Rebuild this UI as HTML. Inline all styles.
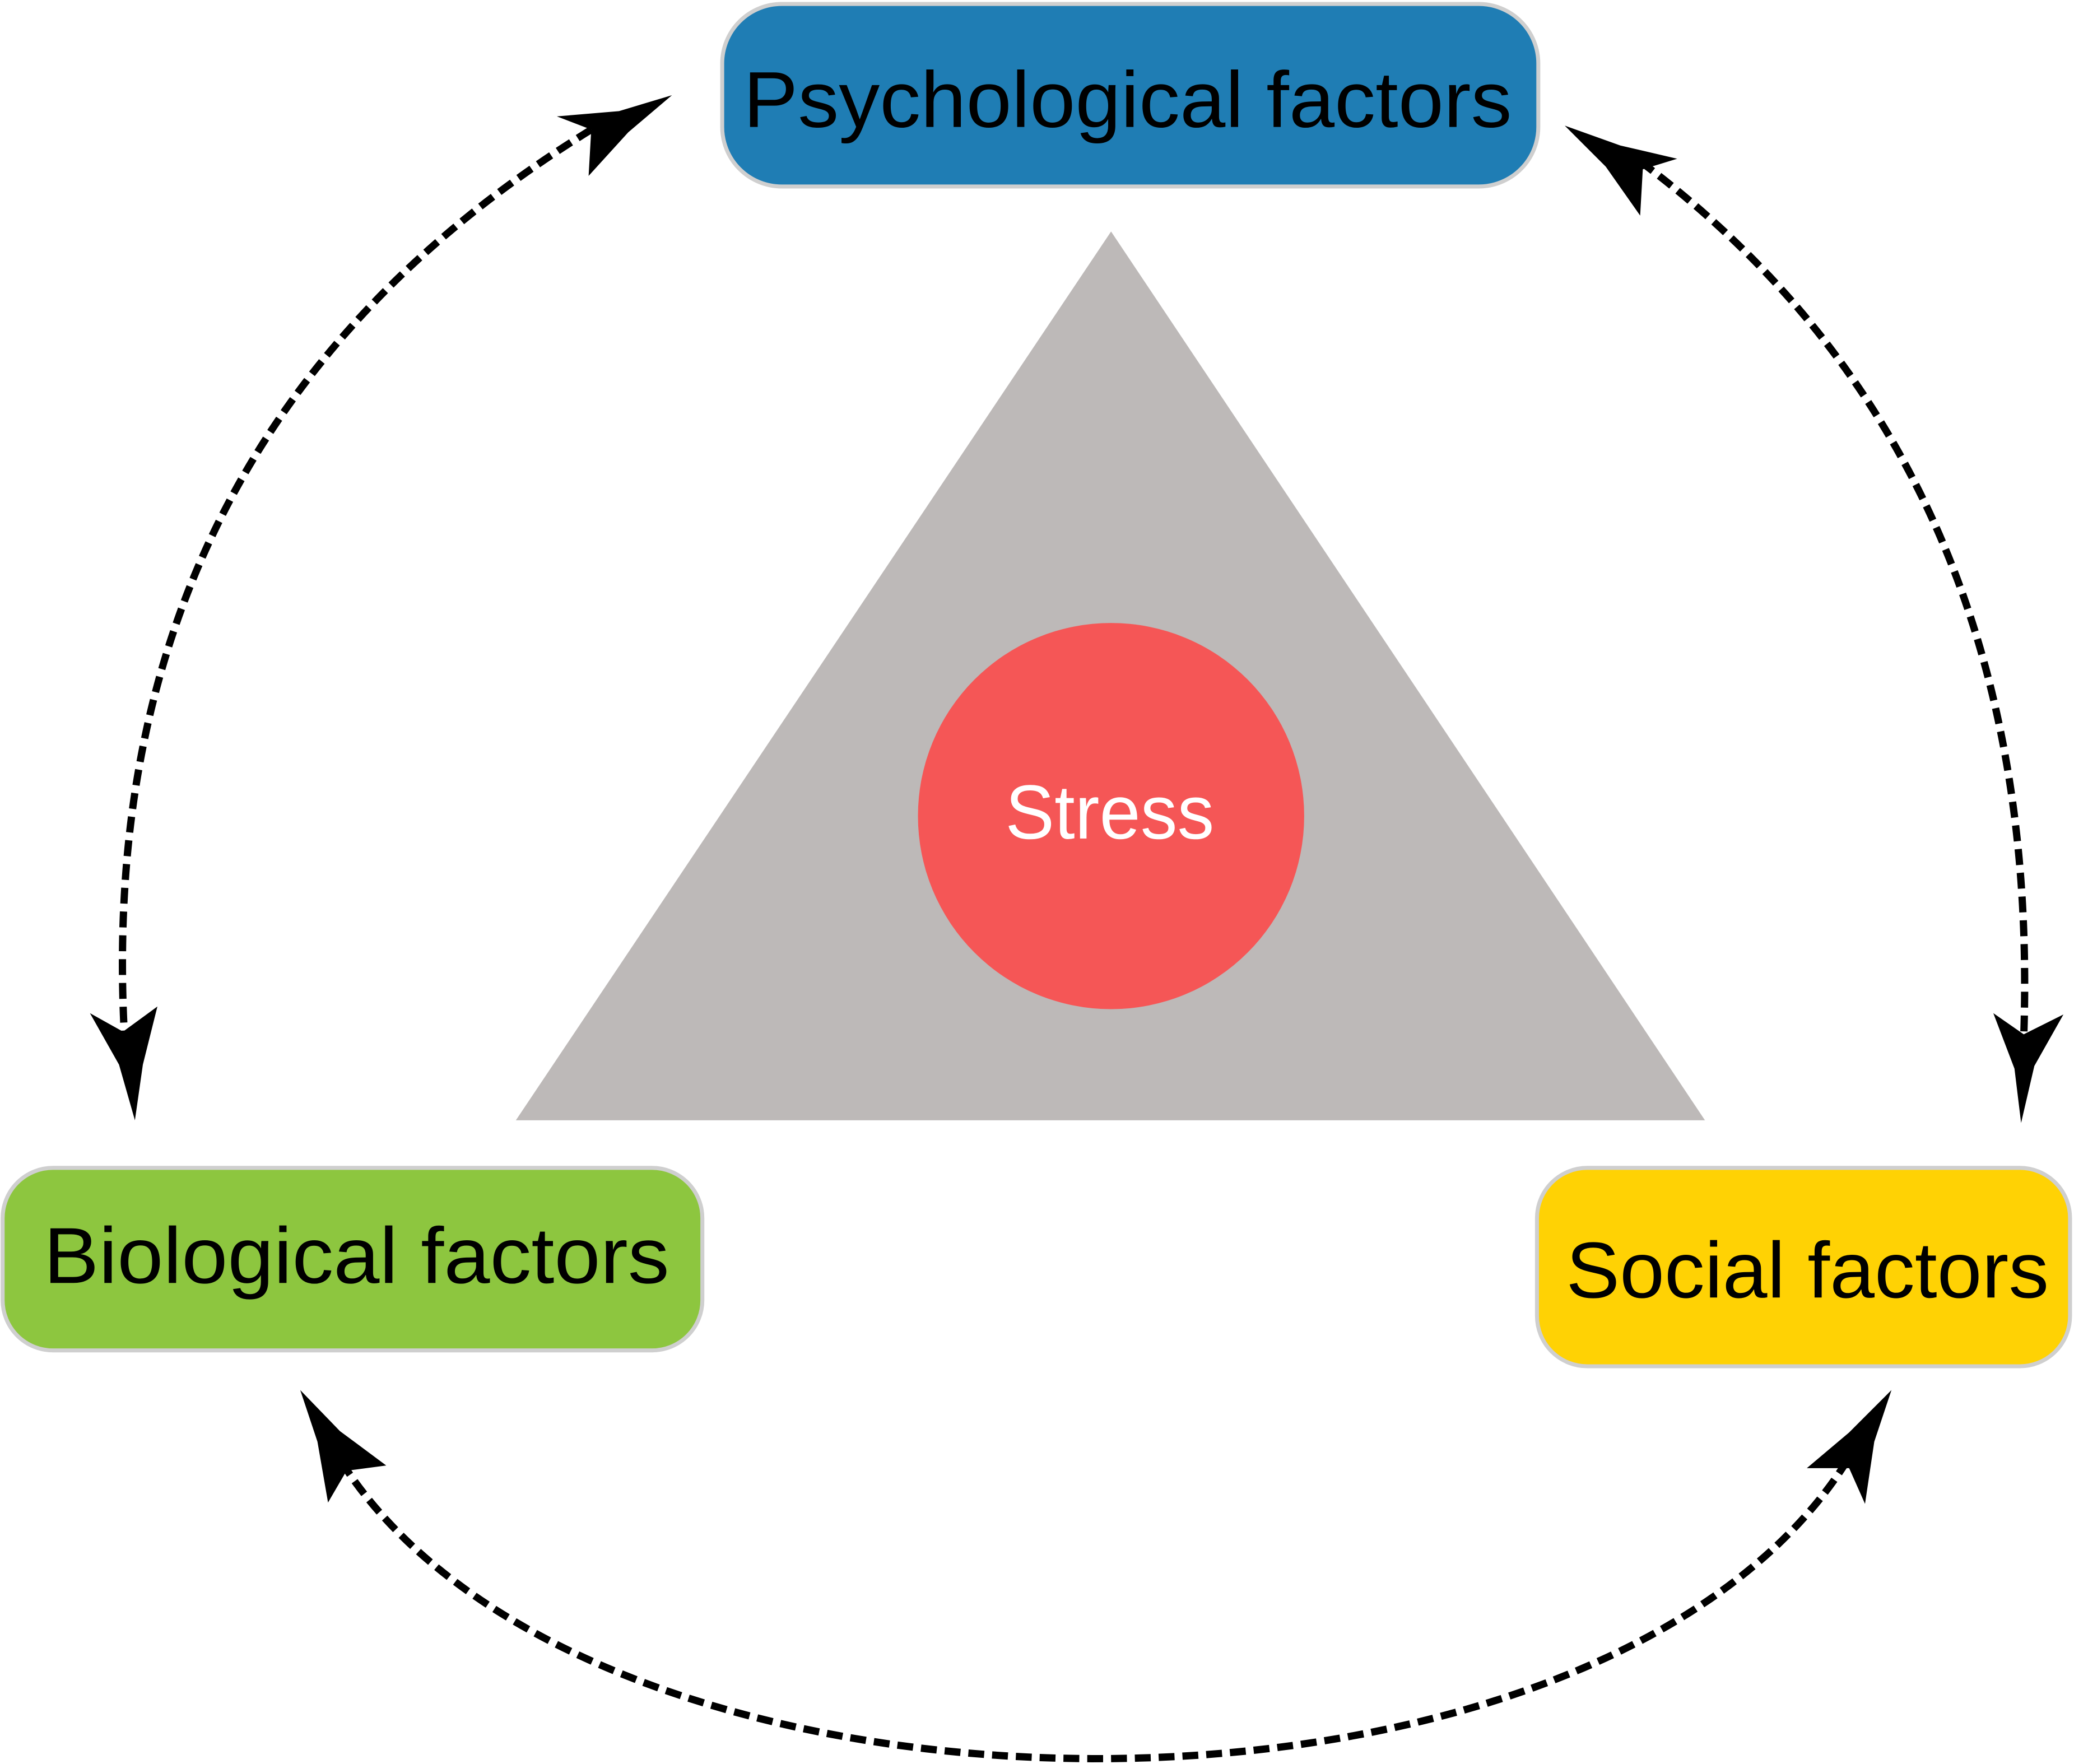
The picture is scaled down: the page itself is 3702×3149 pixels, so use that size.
<!DOCTYPE html>
<html><head><meta charset="utf-8"><style>
html,body{margin:0;padding:0;background:#fff;}
svg{display:block;}
text{font-family:"Liberation Sans",sans-serif;}
</style></head><body>
<svg width="3702" height="3149" viewBox="0 0 1568 1333.7" preserveAspectRatio="none" xmlns="http://www.w3.org/2000/svg">
<rect width="1568" height="1334" fill="#fff"/>
<polygon points="840,175 390,847 1289,847" fill="#bdb9b8"/>
<circle cx="840" cy="617" r="146" fill="#f55656"/>
<text x="760" y="634" font-size="58" fill="#fff" textLength="158" lengthAdjust="spacingAndGlyphs">Stress</text>

<rect x="546" y="3" width="617" height="138" rx="45" fill="#1f7db4" stroke="#cfcfcf" stroke-width="3"/>
<text x="562" y="96" font-size="60" fill="#000" textLength="581" lengthAdjust="spacingAndGlyphs">Psychological factors</text>
<rect x="2" y="883" width="529" height="138" rx="38" fill="#8dc63f" stroke="#cfcfcf" stroke-width="3"/>
<text x="33" y="970" font-size="60" fill="#000" textLength="473" lengthAdjust="spacingAndGlyphs">Biological factors</text>
<rect x="1162" y="883" width="403" height="150" rx="38" fill="#ffd204" stroke="#cfcfcf" stroke-width="3"/>
<text x="1184" y="981" font-size="60" fill="#000" textLength="365" lengthAdjust="spacingAndGlyphs">Social factors</text>

<g fill="none" stroke="#000" stroke-width="5.5" stroke-dasharray="12,6">
<path d="M447,98 Q70,330 94,782"/>
<path d="M1240,122 Q1545,350 1530,784"/>
<path d="M258,1105 C450,1407 1230,1407 1405,1090"/>
</g>
<g fill="#000">
<polygon points="508,72 468,84 421,88 447,98 445,133 475,100"/>
<polygon points="102,847 90,805 68,766 93,780 119,761 108,805"/>
<polygon points="1183,95 1214,126 1240,163 1242,128 1268,120 1225,110"/>
<polygon points="1528,849 1523,808 1507,766 1530,782 1560,767 1538,806"/>
<polygon points="227,1051 240,1090 248,1136 262,1112 292,1108 257,1082"/>
<polygon points="1430,1051 1417,1090 1410,1137 1398,1110 1366,1110 1398,1083"/>
</g>
</svg>
</body></html>
